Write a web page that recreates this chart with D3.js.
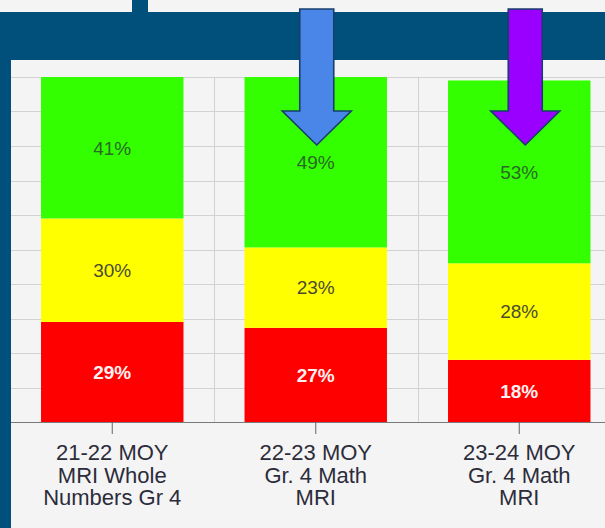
<!DOCTYPE html>
<html><head><meta charset="utf-8">
<script src="https://cdn.jsdelivr.net/npm/d3@7"></script>
<style>html,body{margin:0;padding:0;background:#f4f4f4;overflow:hidden}</style>
</head><body>
<svg id="c" width="605" height="528"></svg>
<script>
const categories = ["21-22 MOY|MRI Whole|Numbers Gr 4", "22-23 MOY|Gr. 4 Math|MRI", "23-24 MOY|Gr. 4 Math|MRI"];
const redValues = [29, 27.3, 18];
const yellowValues = [30, 23.3, 28];
const greenValues = [41, 49.4, 53];
const seriesNames = ["red", "yellow", "green"];
const yTicks = [0,10,20,30,40,50,60,70,80,90,100];
const arrowCats = [1, 2];

const svg = d3.select("#c");
const navy = "#01507c";

// background pieces
svg.append("rect").attr("x",0).attr("y",0).attr("width",605).attr("height",528).attr("fill",navy);
svg.append("rect").attr("x",0).attr("y",0).attr("width",132).attr("height",12).attr("fill","#f4f4f4");
svg.append("rect").attr("x",148).attr("y",0).attr("width",457).attr("height",12).attr("fill","#f4f4f4");
svg.append("rect").attr("x",11).attr("y",60).attr("width",594).attr("height",468).attr("fill","#f4f4f5");

const x = d3.scaleBand().domain(categories).range([10.5, 621]).paddingInner(0.3).paddingOuter(0.15);
const y = d3.scaleLinear().domain([0,100]).range([422, 77]);

// horizontal grid
svg.append("g").selectAll("line").data(yTicks.slice(1)).join("line")
  .attr("x1",11).attr("x2",605).attr("y1",d=>Math.round(y(d))+0.5).attr("y2",d=>Math.round(y(d))+0.5)
  .attr("stroke","#d2d2d4").attr("stroke-width",1);
// vertical grid at category boundaries
svg.append("g").selectAll("line").data(categories.slice(1)).join("line")
  .attr("x1",d=>Math.round(x(d)-x.step()*x.paddingInner()/2)+0.5)
  .attr("x2",d=>Math.round(x(d)-x.step()*x.paddingInner()/2)+0.5)
  .attr("y1",y(100)).attr("y2",y(0))
  .attr("stroke","#d2d2d4").attr("stroke-width",1);

const rows = categories.map((c,i)=>({cat:c, red:redValues[i], yellow:yellowValues[i], green:greenValues[i]}));
const stack = d3.stack().keys(seriesNames)(rows);
const fills = {red:"#ff0000", yellow:"#ffff00", green:"#33ff00"};
const textFill = {red:"#fff0f0", yellow:"#4b4b30", green:"#2a6a25"};
const textWeight = {red:"bold", yellow:"normal", green:"normal"};

const g = svg.append("g");
stack.forEach(s=>{
  g.append("g").selectAll("rect").data(s).join("rect")
    .attr("x",d=>x(d.data.cat)).attr("width",x.bandwidth())
    .attr("y",d=>y(d[1])).attr("height",d=>y(d[0])-y(d[1]))
    .attr("fill",fills[s.key]);
  g.append("g").selectAll("text").data(s).join("text")
    .attr("x",d=>x(d.data.cat)+x.bandwidth()/2)
    .attr("y",d=>(y(d[0])+y(d[1]))/2)
    .attr("dy","0.36em")
    .attr("text-anchor","middle")
    .attr("font-family","Liberation Sans, Arial, sans-serif")
    .attr("font-size",19).attr("font-weight",textWeight[s.key])
    .attr("fill",textFill[s.key])
    .text(d=>Math.round(d[1]-d[0])+"%");
});

// x axis
const ax = svg.append("g").attr("transform",`translate(0,${y(0)})`)
  .call(d3.axisBottom(x).tickSize(12).tickFormat(""));
ax.select(".domain").attr("stroke","#7a7a7a").attr("d","M11,0.5H605");
ax.selectAll(".tick line").attr("stroke","#666");
ax.selectAll(".tick").each(function(d){
  const t = d3.select(this).append("text").attr("fill","#2c2c3a")
    .attr("font-family","Liberation Sans, Arial, sans-serif").attr("font-size",22)
    .attr("text-anchor","middle");
  d.split("|").forEach((line,i)=>{
    t.append("tspan").attr("x",0).attr("y",38+i*22.5).text(line);
  });
});

// arrows
const arrowColors = ["#4a86e8","#9900ff"];
const arrowOffsets = [1, 6];
arrowCats.forEach((ci,k)=>{
  const cx = x(categories[ci]) + x.bandwidth()/2 + arrowOffsets[k];
  const sw = 17, hw = 34.5, top = 9, hb = 111, tip = 145;
  const pts = [[cx-sw,top],[cx+sw,top],[cx+sw,hb],[cx+hw,hb],[cx,tip],[cx-hw,hb],[cx-sw,hb]];
  svg.append("path").attr("d", d3.line()(pts)+"Z")
    .attr("fill",arrowColors[k]).attr("stroke","#173f6b").attr("stroke-width",1.6)
    .attr("stroke-linejoin","miter");
});
</script>
</body></html>
